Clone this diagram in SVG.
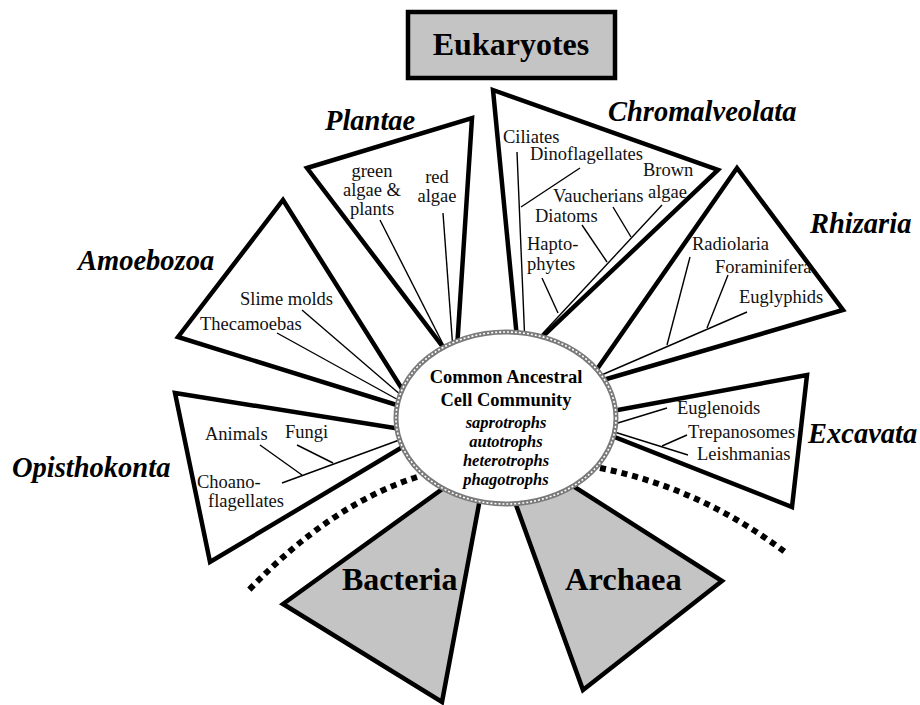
<svg xmlns="http://www.w3.org/2000/svg" width="920" height="705" viewBox="0 0 920 705">
<style>
.w{fill:#fff;stroke:#000;stroke-width:4.5;stroke-linejoin:miter}
.g{fill:#c4c4c4;stroke:#000;stroke-width:4.5;stroke-linejoin:miter}
.ln{stroke:#000;stroke-width:1.4;fill:none}
.t{font-family:"Liberation Serif","Times New Roman",serif;font-size:18.5px;fill:#111}
.grp{font-family:"Liberation Serif","Times New Roman",serif;font-size:28.5px;font-weight:bold;font-style:italic;fill:#000}
.big{font-family:"Liberation Serif","Times New Roman",serif;font-size:32px;font-weight:bold;fill:#000}
.c1{font-family:"Liberation Serif","Times New Roman",serif;font-size:18.5px;font-weight:bold;fill:#000}
.c2{font-family:"Liberation Serif","Times New Roman",serif;font-size:16.5px;font-weight:bold;font-style:italic;fill:#000}
.dot{stroke:#000;stroke-width:6;fill:none;stroke-dasharray:6 5}
</style>
<rect width="920" height="705" fill="#fff"/>

<g id="eukaryotes">
<rect x="408" y="12" width="207" height="66" class="g"/>
<text x="511" y="55" text-anchor="middle" class="big">Eukaryotes</text>
</g>

<g id="plantae">
<polygon points="307,168 472,118 456,364" class="w"/>
<text x="325" y="130" class="grp">Plantae</text>
<text x="372" y="177" text-anchor="middle" class="t">green</text>
<text x="372" y="196" text-anchor="middle" class="t">algae &amp;</text>
<text x="372" y="215" text-anchor="middle" class="t">plants</text>
<text x="437" y="183" text-anchor="middle" class="t">red</text>
<text x="437" y="202" text-anchor="middle" class="t">algae</text>
</g>

<g id="chromalveolata">
<polygon points="493,90 718,170 519,359" class="w"/>
<text x="608" y="121" class="grp">Chromalveolata</text>
<text x="503" y="143" class="t">Ciliates</text>
<text x="530" y="160" class="t">Dinoflagellates</text>
<text x="643" y="176" class="t">Brown</text>
<text x="648" y="198" class="t">algae</text>
<text x="553" y="202" class="t">Vaucherians</text>
<text x="535" y="222" class="t">Diatoms</text>
<text x="527" y="250" class="t">Hapto-</text>
<text x="527" y="270" class="t">phytes</text>
</g>

<g id="rhizaria">
<polygon points="737,168 843,310 586,385" class="w"/>
<text x="810" y="233" class="grp">Rhizaria</text>
<text x="692" y="250" class="t">Radiolaria</text>
<text x="715" y="273" class="t">Foraminifera</text>
<text x="739" y="303" class="t">Euglyphids</text>
</g>

<g id="excavata">
<polygon points="569,419 807,375 792,507" class="w"/>
<text x="808" y="443" class="grp">Excavata</text>
<text x="677" y="414" class="t">Euglenoids</text>
<text x="688" y="438" class="t">Trepanosomes</text>
<text x="697" y="460" class="t">Leishmanias</text>
</g>

<g id="amoebozoa">
<polygon points="283,200 416,411 178,337" class="w"/>
<text x="78" y="270" class="grp">Amoebozoa</text>
<text x="240" y="305" class="t">Slime molds</text>
<text x="200" y="330" class="t">Thecamoebas</text>
</g>

<g id="opisthokonta">
<polygon points="175,393 426,433 210,562" class="w"/>
<text x="12" y="477" class="grp">Opisthokonta</text>
<text x="205" y="440" class="t">Animals</text>
<text x="285" y="438" class="t">Fungi</text>
<text x="197" y="488" class="t">Choano-</text>
<text x="208" y="507" class="t">flagellates</text>
</g>

<g id="bacteria">
<polygon points="283,604 442,702 488,456" class="g"/>
<text x="342" y="590" class="big">Bacteria</text>
</g>

<g id="archaea">
<polygon points="583,690 722,581 490,433" class="g"/>
<text x="565" y="590" class="big" style="font-size:32.5px">Archaea</text>
</g>

<g id="connectors">
<line x1="380" y1="220" x2="446" y2="350" class="ln"/>
<line x1="443" y1="213" x2="453" y2="350" class="ln"/>
<line x1="517" y1="152" x2="525" y2="345" class="ln"/>
<line x1="521" y1="207" x2="580" y2="168" class="ln"/>
<line x1="662" y1="205" x2="532" y2="345" class="ln"/>
<line x1="613" y1="207" x2="631" y2="237" class="ln"/>
<line x1="582" y1="225" x2="607" y2="262" class="ln"/>
<line x1="542" y1="278" x2="558" y2="313" class="ln"/>
<line x1="747" y1="312" x2="590" y2="380" class="ln"/>
<line x1="690" y1="257" x2="667" y2="345" class="ln"/>
<line x1="728" y1="275" x2="707" y2="328" class="ln"/>
<line x1="667" y1="408" x2="608" y2="426" class="ln"/>
<line x1="688" y1="455" x2="608" y2="430" class="ln"/>
<line x1="687" y1="435" x2="662" y2="446" class="ln"/>
<line x1="302" y1="310" x2="402" y2="396" class="ln"/>
<line x1="277" y1="333" x2="402" y2="402" class="ln"/>
<line x1="282" y1="483" x2="402" y2="439" class="ln"/>
<line x1="260" y1="445" x2="302" y2="475" class="ln"/>
<line x1="297" y1="445" x2="333" y2="463" class="ln"/>
<path d="M417,477 Q330,505 249,590" class="dot"/>
<path d="M600,468 Q700,488 785,552" class="dot"/>
</g>

<g id="common-ancestral">
<ellipse cx="506" cy="418" rx="110" ry="86" fill="#fff" stroke="#7a7a7a" stroke-width="5"/>
<ellipse cx="506" cy="418" rx="110" ry="86" fill="none" stroke="#fff" stroke-width="1.6" stroke-dasharray="2 2"/>
<text x="506" y="383" text-anchor="middle" class="c1">Common Ancestral</text>
<text x="506" y="406" text-anchor="middle" class="c1">Cell Community</text>
<text x="506" y="428" text-anchor="middle" class="c2">saprotrophs</text>
<text x="506" y="447" text-anchor="middle" class="c2">autotrophs</text>
<text x="506" y="466" text-anchor="middle" class="c2">heterotrophs</text>
<text x="506" y="485" text-anchor="middle" class="c2">phagotrophs</text>
</g>
</svg>
